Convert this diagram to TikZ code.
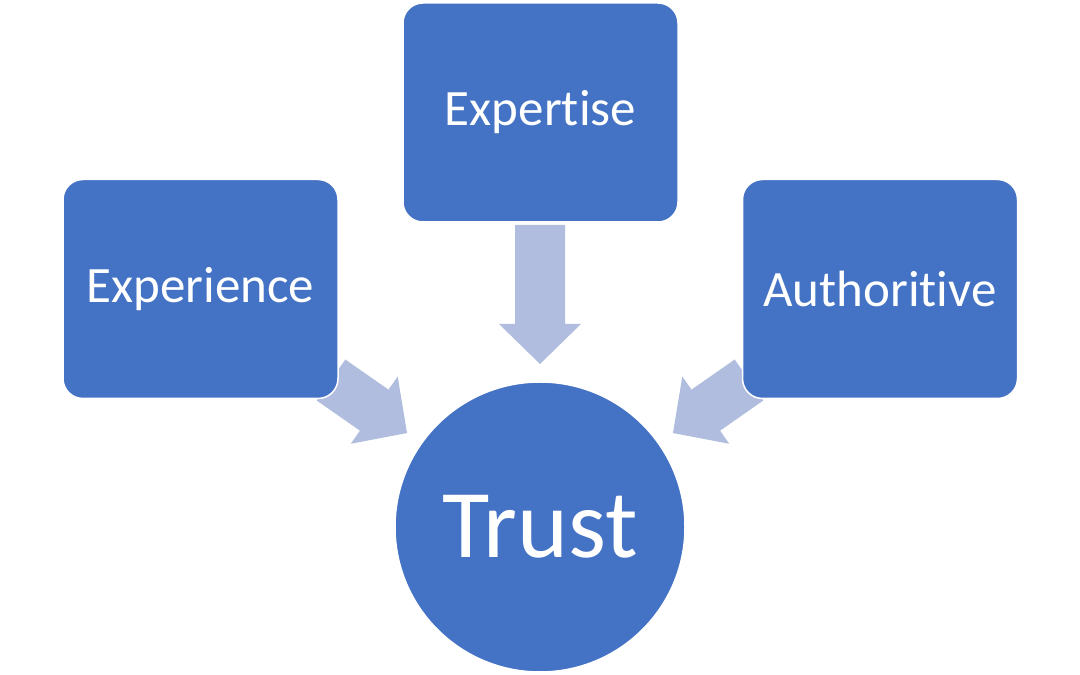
\documentclass[tikz,border=0pt]{standalone}
\usepackage{fontspec}
\setmainfont{Carlito}[Ligatures=NoCommon]
\definecolor{boxblue}{HTML}{4472C4}
\definecolor{arrowblue}{HTML}{B0BDDF}
\begin{document}
\begin{tikzpicture}[x=1pt,y=1pt,
  box/.style={rectangle, rounded corners=20pt, fill=boxblue, draw=white, line width=1.5pt,
    minimum width=275pt, minimum height=219pt, text=white, inner sep=0pt,
    font=\fontsize{51}{60}\selectfont},
  disc/.style={circle, fill=boxblue, draw=white, line width=1.5pt, minimum size=290pt,
    text=white, inner sep=0pt, font=\fontsize{97}{110}\selectfont},
  pics/blockarrow/.style={code={
    \fill[arrowblue] (0,-25) -- ({#1-40},-25) -- ({#1-40},-41) -- (#1,0)
      -- ({#1-40},41) -- ({#1-40},25) -- (0,25) -- cycle;}}
]
\useasboundingbox (0,0) rectangle (1080,675);
% arrows (behind the shapes)
\coordinate (tm) at (540,450);
\coordinate (tl) at (331,295);
\coordinate (tr) at (749,295);
\pic[rotate=-90] at (tm) {blockarrow=139};
\pic[rotate=-34.9] at (tl) {blockarrow=92.7};
\pic[rotate=-145.1] at (tr) {blockarrow=92.7};
% shapes
\node[box] (expertise) at (540.5,562.5) {Expertise};
\node[box] (experience) at (200.5,386) {Experience};
\node[box] (authoritive) at (880,386) {Authoritive};
\node[disc] (trust) at (540,148) {Trust};
\end{tikzpicture}
\end{document}
